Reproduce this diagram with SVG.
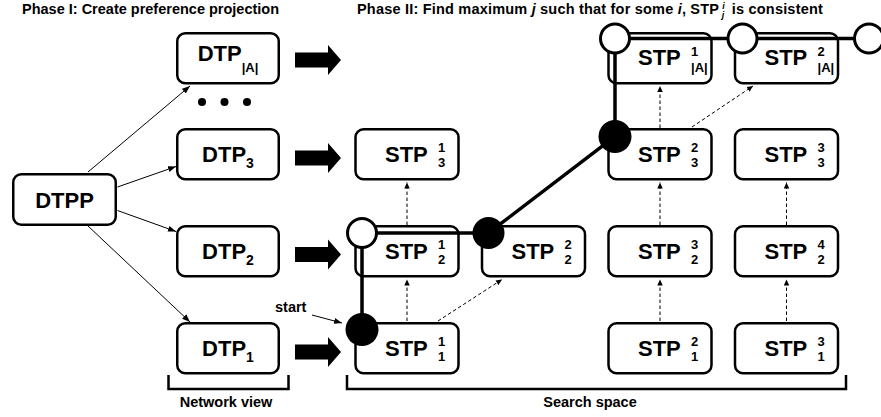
<svg xmlns="http://www.w3.org/2000/svg" width="881" height="417" viewBox="0 0 881 417">
<defs>
<style>
text{font-family:"Liberation Sans",Arial,Helvetica,sans-serif;font-weight:bold;fill:#000}
.box{fill:#fff;stroke:#000;stroke-width:2.5}
.lbl{font-size:22px}
.idx{font-size:13px}
.small{font-size:14.5px}
.thin{stroke:#000;stroke-width:1;fill:none}
.dash{stroke:#000;stroke-width:1;fill:none;stroke-dasharray:3.5 2.5}
.trail{stroke:#000;stroke-width:3.5;fill:none}
.open{fill:#fff;stroke:#000;stroke-width:3}
.full{fill:#000}
.brk{fill:none;stroke:#000;stroke-width:2.5}
</style>
<marker id="ah" markerUnits="userSpaceOnUse" markerWidth="9" markerHeight="7" refX="8" refY="3.5" orient="auto"><path d="M0,0.5 L8,3.5 L0,6.5 z" fill="#000"/></marker>
<marker id="ahd" markerUnits="userSpaceOnUse" markerWidth="7" markerHeight="6" refX="6" refY="2.75" orient="auto"><path d="M0,0 L6,2.75 L0,5.5 z" fill="#000"/></marker>
</defs>

<text class="small" x="22" y="14">Phase I: Create preference projection</text>
<text class="small" x="357" y="14" letter-spacing="0.2">Phase II: Find maximum <tspan font-style="italic">j</tspan> such that for some <tspan font-style="italic">i</tspan>, STP<tspan font-size="9" font-style="italic" dx="3" dy="-5">i</tspan><tspan font-size="9" font-style="italic" dx="-3" dy="9">j</tspan><tspan dx="3" dy="-4"> is consistent</tspan></text>

<g id="connectors">
  <path class="thin" d="M117.5,187 L176,166.5" marker-end="url(#ah)"/>
  <path class="thin" d="M117.5,210.5 L176,231.5" marker-end="url(#ah)"/>
  <path class="thin" d="M88,172 L190,86" marker-end="url(#ah)"/>
  <path class="thin" d="M88,226 L190,322" marker-end="url(#ah)"/>
  <polygon class="full" points="295,52.5 328,52.5 328,45 341,60 328,75 328,67.5 295,67.5"/>
  <polygon class="full" points="295,150.5 328,150.5 328,143 341,158 328,173 328,165.5 295,165.5"/>
  <polygon class="full" points="295,247 328,247 328,239.5 341,254.5 328,269.5 328,262 295,262"/>
  <polygon class="full" points="295,344.5 328,344.5 328,337 341,352 328,367 328,359.5 295,359.5"/>
  <path class="dash" d="M407,321 L407,279.5" marker-end="url(#ahd)"/>
  <path class="dash" d="M407,225 L407,182.5" marker-end="url(#ahd)"/>
  <path class="dash" d="M660,321 L660,279.5" marker-end="url(#ahd)"/>
  <path class="dash" d="M660,225 L660,182.5" marker-end="url(#ahd)"/>
  <path class="dash" d="M660,128 L660,86" marker-end="url(#ahd)"/>
  <path class="dash" d="M786.5,321 L786.5,279.5" marker-end="url(#ahd)"/>
  <path class="dash" d="M786.5,225 L786.5,182.5" marker-end="url(#ahd)"/>
  <path class="dash" d="M438,321 L502,279.5" marker-end="url(#ahd)"/>
  <path class="dash" d="M692,127 L753,86" marker-end="url(#ahd)"/>
  <path class="thin" d="M312,315 L342,323" marker-end="url(#ah)"/>
</g>

<g id="dots">
  <circle cx="202" cy="102" r="4"/>
  <circle cx="224.5" cy="102" r="4"/>
  <circle cx="247" cy="102" r="4"/>
</g>

<g id="DTPP"><rect class="box" x="13.25" y="174.25" width="102.5" height="50.5" rx="8"/><text class="lbl" x="64.5" y="207.5" text-anchor="middle">DTPP</text></g>
<g id="DTP_A"><rect class="box" x="177.25" y="33.25" width="101.5" height="50" rx="8"/><text class="lbl" x="228" y="61" text-anchor="middle">DTP<tspan font-size="13" dy="11">|A|</tspan></text></g>
<g id="DTP_3"><rect class="box" x="177.25" y="129.25" width="101.5" height="50" rx="8"/><text class="lbl" x="228" y="162" text-anchor="middle">DTP<tspan font-size="14" dy="6">3</tspan></text></g>
<g id="DTP_2"><rect class="box" x="177.25" y="226.25" width="101.5" height="50" rx="8"/><text class="lbl" x="228" y="259" text-anchor="middle">DTP<tspan font-size="14" dy="6">2</tspan></text></g>
<g id="DTP_1"><rect class="box" x="177.25" y="323.25" width="101.5" height="50" rx="8"/><text class="lbl" x="228" y="356" text-anchor="middle">DTP<tspan font-size="14" dy="6">1</tspan></text></g>

<g id="STP_1_3"><rect class="box" x="355.5" y="129.25" width="103" height="50" rx="8"/><text class="lbl" x="385" y="162">STP</text><text class="idx" x="438" y="151.5">1</text><text class="idx" x="438" y="166.5">3</text></g>
<g id="STP_1_2"><rect class="box" x="355.5" y="226.25" width="103" height="50" rx="8"/><text class="lbl" x="385" y="259">STP</text><text class="idx" x="438" y="248.5">1</text><text class="idx" x="438" y="263.5">2</text></g>
<g id="STP_1_1"><rect class="box" x="355.5" y="323.25" width="103" height="50" rx="8"/><text class="lbl" x="385" y="356">STP</text><text class="idx" x="438" y="345.5">1</text><text class="idx" x="438" y="360.5">1</text></g>
<g id="STP_2_2"><rect class="box" x="482" y="226.25" width="103" height="50" rx="8"/><text class="lbl" x="511.5" y="259">STP</text><text class="idx" x="564.5" y="248.5">2</text><text class="idx" x="564.5" y="263.5">2</text></g>
<g id="STP_1_A"><rect class="box" x="608.5" y="33.25" width="103" height="50" rx="8"/><text class="lbl" x="638" y="65">STP</text><text class="idx" x="691" y="56">1</text><text class="idx" x="691" y="72">|A|</text></g>
<g id="STP_2_3"><rect class="box" x="608.5" y="129.25" width="103" height="50" rx="8"/><text class="lbl" x="638" y="162">STP</text><text class="idx" x="691" y="151.5">2</text><text class="idx" x="691" y="166.5">3</text></g>
<g id="STP_3_2"><rect class="box" x="608.5" y="226.25" width="103" height="50" rx="8"/><text class="lbl" x="638" y="259">STP</text><text class="idx" x="691" y="248.5">3</text><text class="idx" x="691" y="263.5">2</text></g>
<g id="STP_2_1"><rect class="box" x="608.5" y="323.25" width="103" height="50" rx="8"/><text class="lbl" x="638" y="356">STP</text><text class="idx" x="691" y="345.5">2</text><text class="idx" x="691" y="360.5">1</text></g>
<g id="STP_2_A"><rect class="box" x="735" y="33.25" width="103" height="50" rx="8"/><text class="lbl" x="764.5" y="65">STP</text><text class="idx" x="817.5" y="56">2</text><text class="idx" x="817.5" y="72">|A|</text></g>
<g id="STP_3_3"><rect class="box" x="735" y="129.25" width="103" height="50" rx="8"/><text class="lbl" x="764.5" y="162">STP</text><text class="idx" x="817.5" y="151.5">3</text><text class="idx" x="817.5" y="166.5">3</text></g>
<g id="STP_4_2"><rect class="box" x="735" y="226.25" width="103" height="50" rx="8"/><text class="lbl" x="764.5" y="259">STP</text><text class="idx" x="817.5" y="248.5">4</text><text class="idx" x="817.5" y="263.5">2</text></g>
<g id="STP_3_1"><rect class="box" x="735" y="323.25" width="103" height="50" rx="8"/><text class="lbl" x="764.5" y="356">STP</text><text class="idx" x="817.5" y="345.5">3</text><text class="idx" x="817.5" y="360.5">1</text></g>

<g id="search-path">
  <path class="trail" d="M362,329.5 L362,233 L488.5,233 L615,136.5 L615,38.5 L869,38.5"/>
  <circle class="full" cx="362" cy="329.5" r="16.5"/>
  <circle class="full" cx="488.5" cy="233" r="16"/>
  <circle class="full" cx="615" cy="136.5" r="16.5"/>
  <circle class="open" cx="362" cy="233" r="14.5"/>
  <circle class="open" cx="615" cy="38.5" r="14.5"/>
  <circle class="open" cx="742.5" cy="38.5" r="14.5"/>
  <circle class="open" cx="869" cy="38.5" r="14.5"/>
</g>

<g id="start-label"><text class="small" x="275" y="312">start</text></g>

<g id="brackets">
  <path class="brk" d="M168.5,375 L168.5,389 L288.5,389 L288.5,375"/>
  <path class="brk" d="M347,375 L347,389 L846,389 L846,375"/>
  <text class="small" x="226" y="407" text-anchor="middle">Network view</text>
  <text class="small" x="590" y="407" text-anchor="middle">Search space</text>
</g>
</svg>
